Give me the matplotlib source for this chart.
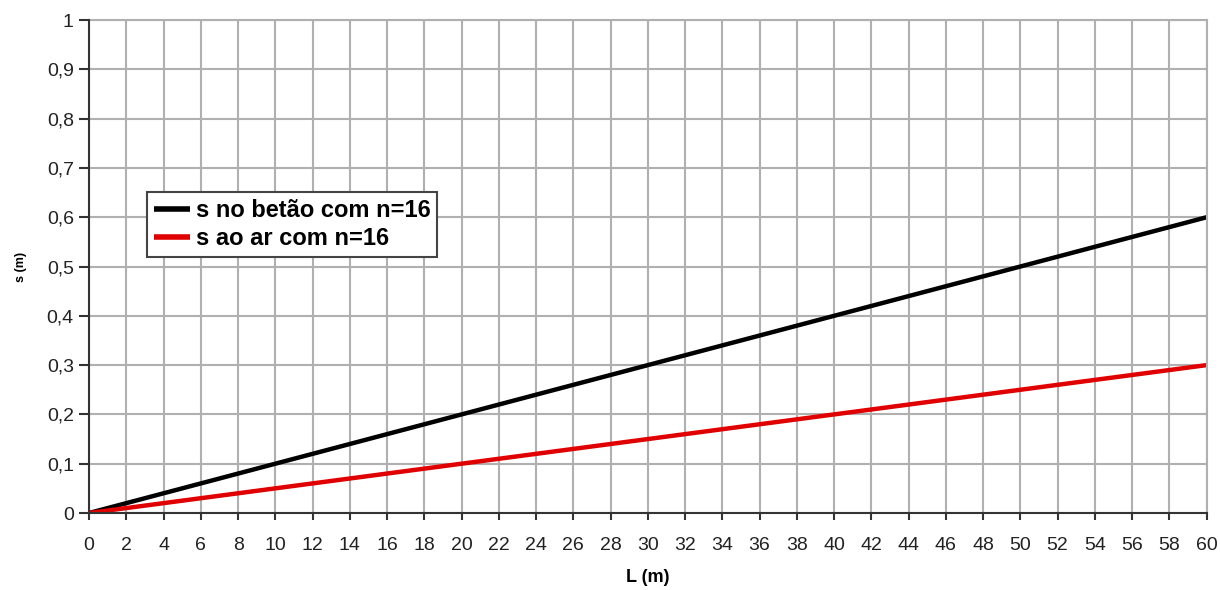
import matplotlib
matplotlib.use('Agg')
import matplotlib.pyplot as plt
from matplotlib.ticker import FuncFormatter, MultipleLocator

# comprimento L (m) e deslocamento s (m)
L = [0, 10, 20, 30, 40, 50, 60]
s_betao = [0, 0.1, 0.2, 0.3, 0.4, 0.5, 0.6]
s_ar = [0, 0.05, 0.1, 0.15, 0.2, 0.25, 0.3]
labels = ['s no betão com n=16', 's ao ar com n=16']

plt.rcParams['font.family'] = ['Liberation Sans', 'DejaVu Sans']

fig = plt.figure(figsize=(12.2, 5.9), dpi=100)
ax = fig.add_axes([0.073, 0.1305, 0.916, 0.8355])

ax.plot(L, s_betao, color='black', lw=3.2, label=labels[0], solid_capstyle='butt')
ax.plot(L, s_ar, color='#e00000', lw=3.2, label=labels[1], solid_capstyle='butt')

ax.set_xlim(0, 60)
ax.set_ylim(0, 1)
ax.xaxis.set_major_locator(MultipleLocator(2))
ax.yaxis.set_major_locator(MultipleLocator(0.1))
ax.yaxis.set_major_formatter(FuncFormatter(lambda v, p: ('%g' % round(v, 1)).replace('.', ',')))

ax.grid(True, color='#b0b0b0', lw=1.5)
ax.set_axisbelow(True)
for side in ['top', 'right']:
    ax.spines[side].set_color('#b0b0b0')
    ax.spines[side].set_linewidth(1.5)
for side in ['left', 'bottom']:
    ax.spines[side].set_color('#333333')
    ax.spines[side].set_linewidth(1.5)
    ax.spines[side].set_zorder(3)

ax.tick_params(axis='both', labelsize=14, color='#333333', width=1.5, colors='#222222')
ax.tick_params(axis='y', length=7, pad=4)
ax.tick_params(axis='x', length=5, pad=12)

ax.set_xlabel('L (m)', fontsize=13, fontweight='bold', labelpad=11)
ax.set_ylabel('s (m)', fontsize=9, fontweight='bold', labelpad=14)

leg = ax.legend(loc='upper left', bbox_to_anchor=(0.052, 0.651), fancybox=False,
                edgecolor='#444444', framealpha=1,
                prop={'weight': 'bold', 'size': 17}, handlelength=1.5,
                handletextpad=0.25, borderpad=0.3, labelspacing=0.2, borderaxespad=0)
leg.get_frame().set_linewidth(1.5)
for h in leg.get_lines():
    h.set_linewidth(4)

fig.savefig('out.png', dpi=100)
